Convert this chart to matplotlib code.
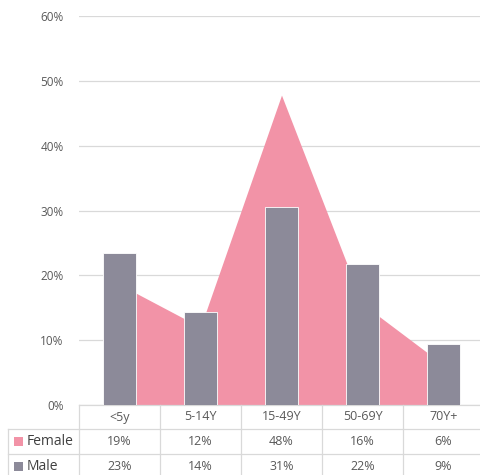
import matplotlib
matplotlib.use("Agg")
import matplotlib.pyplot as plt
from matplotlib.transforms import blended_transform_factory
from matplotlib.patches import Rectangle

categories = ["<5y", "5-14Y", "15-49Y", "50-69Y", "70Y+"]
female = [18.6, 12.0, 47.8, 15.6, 6.2]
male = [23.4, 14.4, 30.6, 21.7, 9.4]
yticks = [0, 10, 20, 30, 40, 50, 60]

pink = "#F293A7"
gray = "#8C8A99"
grid_c = "#D9D9D9"
text_c = "#595959"

plt.rcParams['font.family'] = ['Open Sans', 'DejaVu Sans']

W, H = 481, 475
fig = plt.figure(figsize=(W / 100, H / 100), dpi=100)
ax_l, ax_r, ax_t, ax_b = 79, 484, 16, 405
ax = fig.add_axes([ax_l / W, (H - ax_b) / H, (ax_r - ax_l) / W, (ax_b - ax_t) / H])

x = list(range(len(categories)))
ax.fill_between(x, female, 0, color=pink, linewidth=0, zorder=2)
ax.bar(x, male, width=0.41, color=gray, edgecolor="white", linewidth=0.6, zorder=3)

ax.set_xlim(-0.5, len(categories) - 0.5)
ax.set_ylim(0, 60)
ax.set_yticks(yticks)
ax.set_yticklabels([f"{v}%" for v in yticks], color=text_c, fontsize=8.5)
ax.tick_params(axis='y', length=0, pad=11)
ax.set_xticks([])
ax.grid(axis='y', color=grid_c, linewidth=0.9, zorder=0)
ax.set_axisbelow(True)
for s in ["left", "right", "top"]:
    ax.spines[s].set_visible(False)
ax.spines["bottom"].set_color(grid_c)
ax.spines["bottom"].set_linewidth(0.9)

# data table below the plot
tr = blended_transform_factory(ax.transData, ax.transAxes)
h_px = ax_b - ax_t
def yf(py):
    return (ax_b - py) / h_px

rows = [405, 429, 454, 480]
n = len(categories)
line_kw = dict(color=grid_c, linewidth=0.9, clip_on=False)
for i in range(n + 1):
    ax.plot([i - 0.5, i - 0.5], [yf(405), yf(480)], transform=tr, **line_kw)
px_per_unit = (ax_r - ax_l) / n
x_left_label = -0.5 - (ax_l - 8) / px_per_unit
for r in rows[1:3]:
    ax.plot([x_left_label, n - 0.5], [yf(r), yf(r)], transform=tr, **line_kw)
ax.plot([x_left_label, x_left_label], [yf(429), yf(480)], transform=tr, **line_kw)

for i, c in enumerate(categories):
    ax.text(i, yf(417), c, transform=tr, ha='center', va='center', color=text_c, fontsize=9)
    ax.text(i, yf(441.5), f"{round(female[i])}%", transform=tr, ha='center', va='center', color=text_c, fontsize=9)
    ax.text(i, yf(466.5), f"{round(male[i])}%", transform=tr, ha='center', va='center', color=text_c, fontsize=9)

for label, col, yc in [("Female", pink, 441.5), ("Male", gray, 466.5)]:
    fig.patches.append(Rectangle((14 / W, (H - yc - 4.5) / H), 9 / W, 9 / H,
                                 transform=fig.transFigure, color=col, linewidth=0))
    fig.text(27 / W, (H - yc) / H, label, ha='left', va='center', color="#404040", fontsize=10)

fig.savefig("out.png", dpi=100)
